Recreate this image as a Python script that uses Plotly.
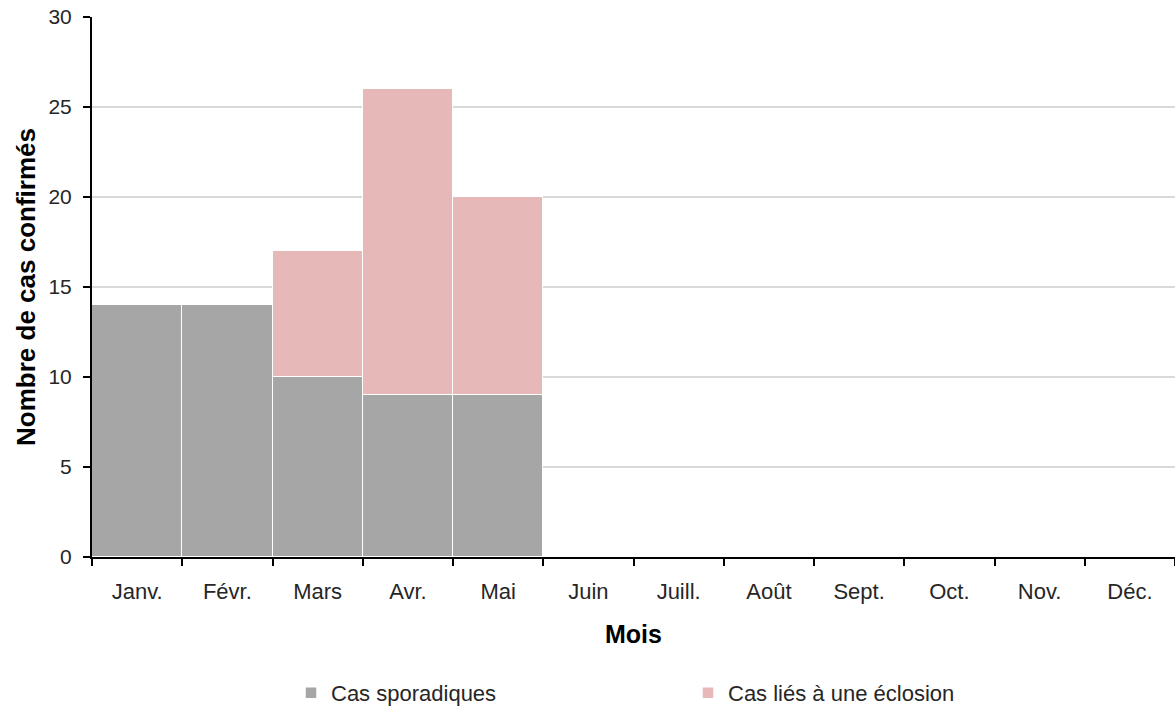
import plotly.graph_objects as go

mois = ["Janv.", "Févr.", "Mars", "Avr.", "Mai", "Juin", "Juill.", "Août", "Sept.", "Oct.", "Nov.", "Déc."]
sporadiques = [14, 14, 10, 9, 9, None, None, None, None, None, None, None]
eclosion = [0, 0, 7, 17, 11, None, None, None, None, None, None, None]

FONT = "Liberation Sans, Arial, sans-serif"

fig = go.Figure()
fig.add_trace(go.Bar(x=mois, y=sporadiques, name="Cas sporadiques",
                     marker=dict(color="#A6A6A6", line=dict(color="white", width=1.5))))
fig.add_trace(go.Bar(x=mois, y=eclosion, name="Cas liés à une éclosion",
                     marker=dict(color="#E6B8B7", line=dict(color="white", width=1.5))))

fig.update_layout(
    width=1175, height=710,
    barmode="stack", bargap=0,
    plot_bgcolor="white", paper_bgcolor="white",
    margin=dict(l=92, r=0, t=17, b=153, autoexpand=False),
    font=dict(family=FONT, size=22, color="#262626"),
    legend=dict(orientation="h", x=(291 - 92) / 1083, xanchor="left",
                y=-(693 - 557) / 540, yanchor="middle",
                entrywidth=352, font=dict(size=22, color="#262626"), traceorder="normal"),
    xaxis=dict(
        type="category", tickson="boundaries", ticks="outside", ticklen=7, tickwidth=2,
        tickcolor="black", showline=True, linecolor="black", linewidth=2,
        showgrid=False, ticklabelstandoff=14,
        title=dict(text="<b>Mois</b>", font=dict(size=25, color="black"), standoff=22),
        tickfont=dict(size=22, color="#262626"),
    ),
    yaxis=dict(
        range=[0, 30], dtick=5, ticks="outside", ticklen=7, tickwidth=2, tickcolor="black",
        showline=True, linecolor="black", linewidth=2, ticklabelstandoff=7,
        showgrid=True, gridcolor="#D9D9D9", gridwidth=2, zeroline=False,
        title=dict(text="<b>Nombre de cas confirmés</b>", font=dict(size=26, color="black"), standoff=5),
        tickfont=dict(size=21, color="#262626"),
    ),
)

fig.write_html("out.html", config={"displayModeBar": False},
               post_script="document.body.style.margin='0';document.body.style.overflow='hidden';")
